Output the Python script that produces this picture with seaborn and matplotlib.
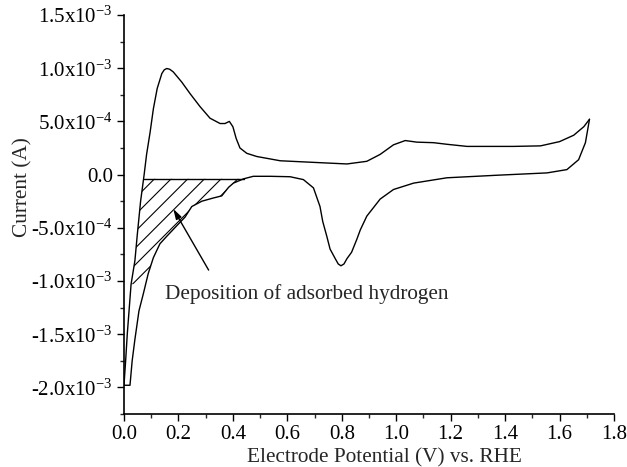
import numpy as np
import pandas as pd
import seaborn as sns
import matplotlib
matplotlib.use("Agg")
import matplotlib.pyplot as plt
from matplotlib.ticker import MultipleLocator, FixedLocator, FixedFormatter

# ---- data ----
# anodic (forward) sweep, current in units of 1e-3 A
anodic_E = [0.0, 0.002, 0.006, 0.012, 0.026, 0.040, 0.049, 0.061, 0.074, 0.083, 0.096,
            0.108, 0.122, 0.139, 0.148, 0.157, 0.168, 0.181, 0.212, 0.243, 0.279, 0.316, 0.353, 0.371,
            0.387, 0.40, 0.412, 0.426, 0.451, 0.488, 0.531, 0.574, 0.696, 0.819, 0.892,
            0.941, 0.99, 1.033, 1.076, 1.137, 1.186, 1.26, 1.43, 1.53, 1.60, 1.652, 1.689, 1.71]
anodic_I = [-1.98, -1.9, -1.75, -1.5, -1.03, -0.81, -0.56, -0.25, 0.0, 0.19, 0.40,
            0.62, 0.81, 0.95, 0.985, 0.997, 0.99, 0.965, 0.87, 0.76, 0.64, 0.53, 0.48, 0.48,
            0.50, 0.45, 0.34, 0.25, 0.20, 0.17, 0.15, 0.13, 0.115, 0.10, 0.125,
            0.19, 0.28, 0.32, 0.305, 0.30, 0.285, 0.265, 0.265, 0.27, 0.31, 0.37, 0.45, 0.52]
# cathodic (reverse) sweep
cathodic_E = [1.71, 1.695, 1.67, 1.627, 1.554, 1.37, 1.186, 1.064, 0.99, 0.941, 0.892,
              0.868, 0.855, 0.836, 0.819, 0.808, 0.797, 0.787, 0.776, 0.757, 0.745, 0.73,
              0.72, 0.696, 0.659, 0.61, 0.537, 0.475,
              0.439, 0.402, 0.384, 0.359, 0.328, 0.286, 0.249, 0.224, 0.194, 0.157, 0.132,
              0.108, 0.089, 0.071, 0.055, 0.04, 0.03, 0.022, 0.0]
cathodic_I = [0.52, 0.30, 0.14, 0.047, 0.016, -0.006, -0.03, -0.08, -0.14, -0.23, -0.39,
              -0.52, -0.61, -0.73, -0.79, -0.84, -0.857, -0.84, -0.79, -0.70, -0.58, -0.44,
              -0.30, -0.125, -0.047, -0.02, -0.016, -0.016,
              -0.04, -0.08, -0.12, -0.20, -0.22, -0.25, -0.30, -0.40, -0.48, -0.58, -0.65,
              -0.78, -0.93, -1.12, -1.28, -1.55, -1.75, -1.98, -1.98]

hatch_top = -0.04       # baseline of hatched region (1e-3 A)
hatch_bottom = -1.03

y_ticks = [-2.0, -1.5, -1.0, -0.5, 0.0, 0.5, 1.0, 1.5]
y_labels = ["-2.0x10$^{\\mathrm{-3}}$", "-1.5x10$^{\\mathrm{-3}}$", "-1.0x10$^{\\mathrm{-3}}$",
            "-5.0x10$^{\\mathrm{-4}}$", "0.0", "5.0x10$^{\\mathrm{-4}}$",
            "1.0x10$^{\\mathrm{-3}}$", "1.5x10$^{\\mathrm{-3}}$"]
x_ticks = [0.0, 0.2, 0.4, 0.6, 0.8, 1.0, 1.2, 1.4, 1.6, 1.8]
x_labels = ["0.0", "0.2", "0.4", "0.6", "0.8", "1.0", "1.2", "1.4", "1.6", "1.8"]

annotation = "Deposition of adsorbed hydrogen"
xlabel = "Electrode Potential (V) vs. RHE"
ylabel = "Current (A)"

# ---- style ----
sns.set_theme(style="ticks")
plt.rcParams["font.family"] = ["Liberation Serif", "DejaVu Serif"]
plt.rcParams["mathtext.fontset"] = "custom"
plt.rcParams["mathtext.rm"] = "Liberation Serif"
plt.rcParams["mathtext.it"] = "Liberation Serif:italic"
plt.rcParams["hatch.linewidth"] = 0.8
plt.rcParams["hatch.color"] = "black"

fig = plt.figure(figsize=(6.27, 4.67), dpi=100)
ax = fig.add_axes([124 / 627, 1 - 414 / 467, 490 / 627, 399 / 467])

scale = 1e-3
df_a = pd.DataFrame({"E": anodic_E, "I": np.array(anodic_I) * scale})
df_c = pd.DataFrame({"E": cathodic_E, "I": np.array(cathodic_I) * scale})
sns.lineplot(data=df_a, x="E", y="I", sort=False, estimator=None, color="black", lw=1.0, ax=ax)
sns.lineplot(data=df_c, x="E", y="I", sort=False, estimator=None, color="black", lw=1.0, ax=ax)

# hatched region: between anodic (left) and cathodic (right) branches
yy = np.linspace(hatch_bottom, hatch_top, 200)
aE = np.array(anodic_E); aI = np.array(anodic_I)
cE = np.array(cathodic_E); cI = np.array(cathodic_I)
ma = (aE <= 0.09)
xl = np.interp(yy, aI[ma], aE[ma])
mc = (cE <= 0.44)
order = np.argsort(cI[mc])
xr = np.interp(yy, cI[mc][order], cE[mc][order])
ax.fill_betweenx(yy * scale, xl, xr, facecolor="none", edgecolor="black", hatch="//", linewidth=0)
ax.plot([xl[-1], xr[-1]], [hatch_top * scale, hatch_top * scale], color="black", lw=1.0)

# annotation
ax.annotate("", xy=(0.176, -0.30e-3), xytext=(0.316, -0.92e-3),
            arrowprops=dict(arrowstyle="-|>,head_length=0.5,head_width=0.15", color="black", lw=1.0))
ax.text(0.151, -1.121e-3, annotation, ha="left", va="center", fontsize=15.3)

# axes
ax.set_xlim(0.0, 1.8)
ax.set_ylim(-2.25e-3, 1.5e-3)
ax.yaxis.set_major_locator(FixedLocator([v * scale for v in y_ticks]))
ax.yaxis.set_major_formatter(FixedFormatter(y_labels))
ax.yaxis.set_minor_locator(MultipleLocator(0.25e-3))
ax.xaxis.set_major_locator(FixedLocator(x_ticks))
ax.xaxis.set_major_formatter(FixedFormatter(x_labels))
ax.xaxis.set_minor_locator(MultipleLocator(0.1))
ax.tick_params(which="major", direction="out", length=5, width=1.0, labelsize=15, pad=3, colors="black")
ax.tick_params(which="minor", direction="out", length=3, width=1.0)
for s in ["top", "right"]:
    ax.spines[s].set_visible(False)
for s in ["left", "bottom"]:
    ax.spines[s].set_linewidth(1.2)
    ax.spines[s].set_color("black")

ax.set_xlabel(xlabel, fontsize=15.3)
ax.set_ylabel(ylabel, fontsize=15.3)
ax.xaxis.set_label_coords(0.531, -0.085)
ax.yaxis.set_label_coords(-0.186, 0.569)

fig.savefig("out.png", dpi=100)
